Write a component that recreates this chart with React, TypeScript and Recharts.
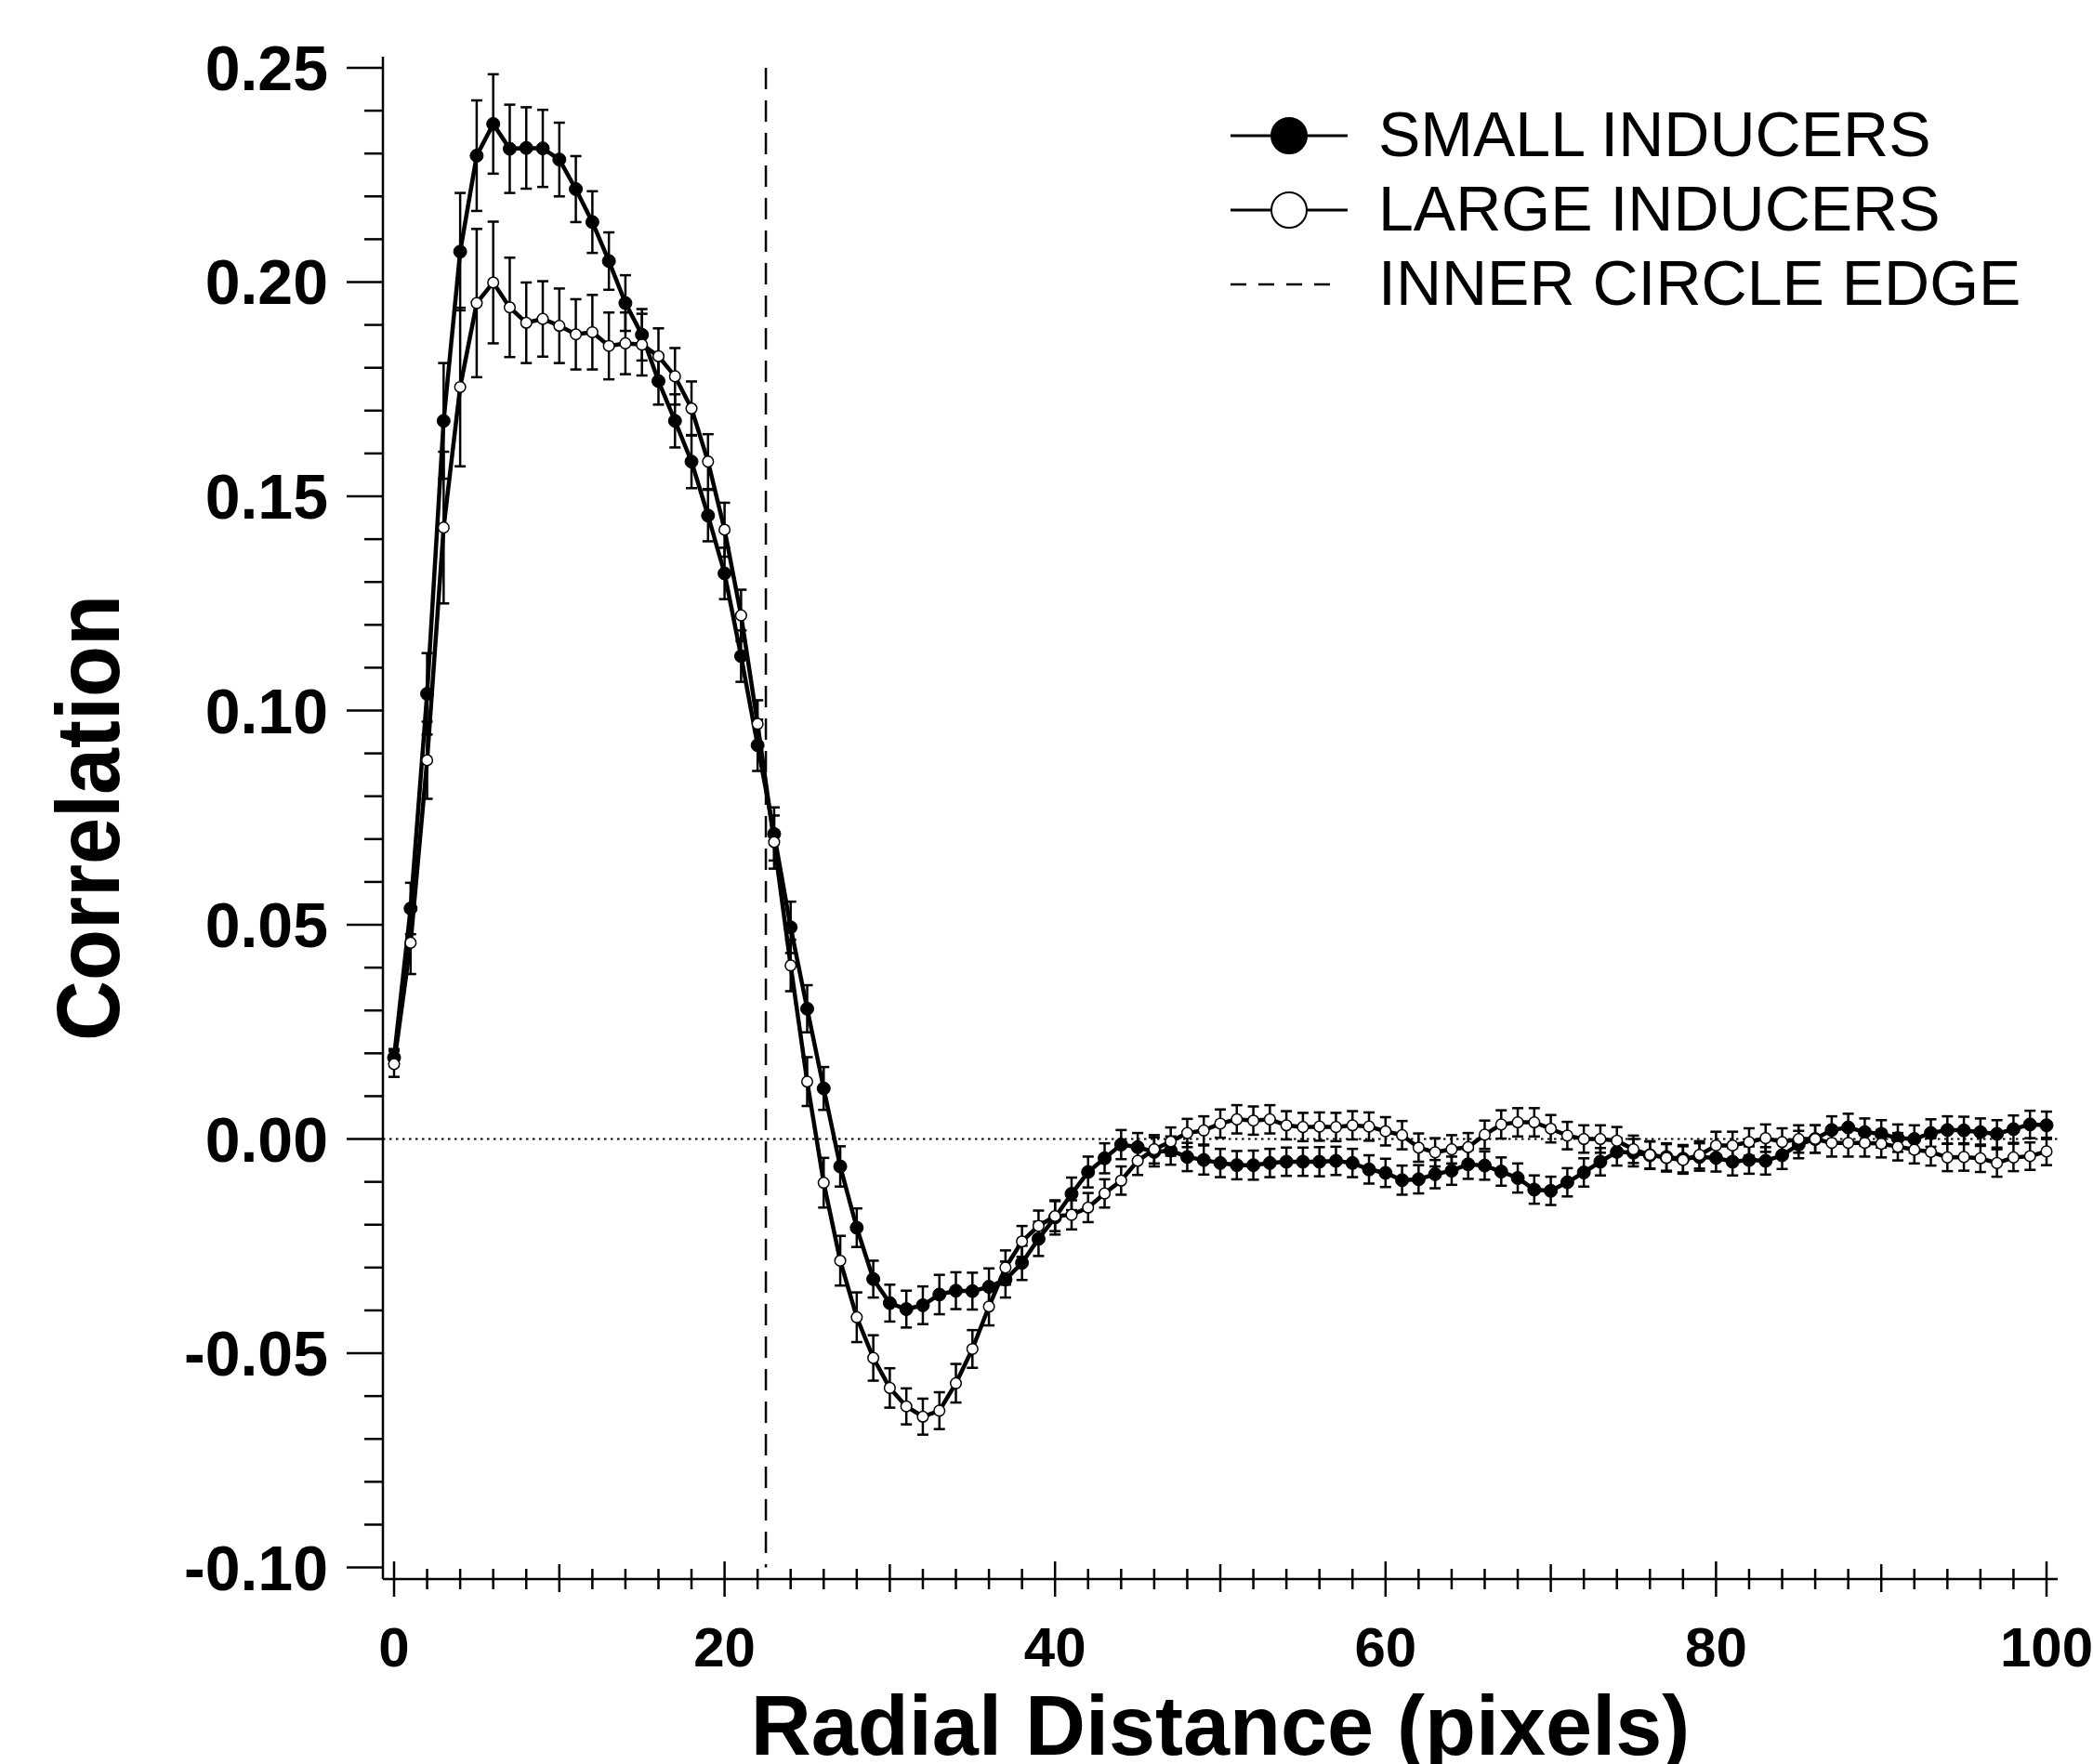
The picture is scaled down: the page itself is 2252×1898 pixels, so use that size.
import { ComposedChart, Line, XAxis, YAxis, ErrorBar, ReferenceLine, Legend } from "recharts";

const FONT = '"Liberation Sans", Arial, Helvetica, sans-serif';

// radial distance in pixels
const distance = [
  0, 1, 2, 3, 4, 5, 6, 7, 8, 9, 10, 11, 12, 13, 14, 15, 16, 17, 18, 19, 20,
  21, 22, 23, 24, 25, 26, 27, 28, 29, 30, 31, 32, 33, 34, 35, 36, 37, 38, 39, 40,
  41, 42, 43, 44, 45, 46, 47, 48, 49, 50, 51, 52, 53, 54, 55, 56, 57, 58, 59, 60,
  61, 62, 63, 64, 65, 66, 67, 68, 69, 70, 71, 72, 73, 74, 75, 76, 77, 78, 79, 80,
  81, 82, 83, 84, 85, 86, 87, 88, 89, 90, 91, 92, 93, 94, 95, 96, 97, 98, 99, 100,
];

const smallInducers = [
  0.019, 0.0538, 0.1039, 0.1676, 0.2071, 0.2295, 0.2369, 0.2311, 0.2313, 0.2312,
  0.2286, 0.2217, 0.214, 0.2049, 0.1951, 0.1877, 0.1769, 0.1676, 0.1581, 0.1455,
  0.132, 0.1127, 0.0919, 0.0712, 0.0494, 0.0304, 0.0118, -0.0064, -0.0207, -0.0327,
  -0.0383, -0.0397, -0.0388, -0.0363, -0.0354, -0.0355, -0.0345, -0.0328, -0.0289, -0.0233,
  -0.0183, -0.0128, -0.0077, -0.0045, -0.0013, -0.0019, -0.003, -0.0027, -0.0042, -0.0049,
  -0.0056, -0.0061, -0.0061, -0.0056, -0.0053, -0.0053, -0.0053, -0.0051, -0.0056, -0.0071,
  -0.0079, -0.0096, -0.0094, -0.0082, -0.0074, -0.0059, -0.0062, -0.0076, -0.0091, -0.0118,
  -0.0121, -0.0101, -0.0078, -0.0053, -0.003, -0.0032, -0.0038, -0.0042, -0.0046, -0.0042,
  -0.0044, -0.0053, -0.0049, -0.0051, -0.0038, -0.0013, 0.0, 0.0021, 0.0027, 0.0016,
  0.0012, 0.0002, 0.0, 0.0014, 0.0021, 0.002, 0.0016, 0.0012, 0.0023, 0.0034,
  0.0032,
];

const smallErr = [
  0.002, 0.006, 0.0095, 0.0135, 0.0137, 0.0129, 0.0116, 0.0103, 0.0095, 0.009,
  0.0086, 0.0077, 0.0072, 0.0067, 0.0065, 0.006, 0.0055, 0.0062, 0.0062, 0.006,
  0.006, 0.006, 0.006, 0.0062, 0.006, 0.0055, 0.005, 0.0047, 0.0045, 0.0043,
  0.0043, 0.0043, 0.0044, 0.0046, 0.0043, 0.0043, 0.0043, 0.0042, 0.004, 0.004,
  0.004, 0.0038, 0.0036, 0.0035, 0.0034, 0.0033, 0.0034, 0.0033, 0.0033, 0.0034,
  0.0033, 0.0033, 0.0034, 0.0033, 0.0033, 0.0033, 0.0034, 0.0033, 0.0033, 0.0033,
  0.0033, 0.0034, 0.0033, 0.0033, 0.0033, 0.0034, 0.0033, 0.0033, 0.0034, 0.0033,
  0.0033, 0.0033, 0.0033, 0.0032, 0.0032, 0.0032, 0.0032, 0.0032, 0.0032, 0.0032,
  0.0032, 0.0032, 0.0032, 0.0032, 0.0032, 0.0032, 0.0032, 0.0032, 0.0032, 0.0032,
  0.0032, 0.0032, 0.0032, 0.0032, 0.0032, 0.0032, 0.0032, 0.0032, 0.0032, 0.0032,
  0.0032,
];

const largeInducers = [
  0.0175, 0.0458, 0.0884, 0.1427, 0.1755, 0.1951, 0.1999, 0.1941, 0.1905, 0.1914,
  0.1898, 0.1878, 0.1883, 0.1851, 0.1857, 0.1854, 0.1827, 0.178, 0.1705, 0.1581,
  0.1422, 0.1222, 0.0969, 0.0693, 0.0405, 0.0134, -0.0102, -0.0284, -0.0416, -0.0511,
  -0.0581, -0.0624, -0.0648, -0.0634, -0.057, -0.049, -0.0391, -0.03, -0.0239, -0.0203,
  -0.018, -0.0177, -0.016, -0.0127, -0.0097, -0.0051, -0.0024, -0.0006, 0.0014, 0.002,
  0.0036, 0.0046, 0.0043, 0.0046, 0.0032, 0.0028, 0.0029, 0.0028, 0.0032, 0.0029,
  0.0018, 0.0009, -0.002, -0.0031, -0.0024, -0.0019, 0.001, 0.0034, 0.0039, 0.0039,
  0.0024, 0.0008, 0.0, 0.0, -0.0004, -0.0024, -0.0037, -0.0044, -0.0049, -0.0037,
  -0.0015, -0.0015, -0.0007, 0.0002, -0.0007, 0.0, 0.0, -0.0009, -0.0009, -0.0009,
  -0.0011, -0.0018, -0.0025, -0.003, -0.0043, -0.0042, -0.0045, -0.0056, -0.0043, -0.004,
  -0.0029,
];

const largeErr = [
  0.003, 0.0073, 0.009, 0.0177, 0.0185, 0.0173, 0.0142, 0.0116, 0.0094, 0.0088,
  0.0087, 0.0082, 0.0087, 0.0078, 0.0072, 0.0072, 0.0065, 0.0066, 0.0063, 0.0064,
  0.0063, 0.006, 0.0055, 0.0062, 0.006, 0.0057, 0.0058, 0.0058, 0.0058, 0.0053,
  0.0046, 0.0042, 0.0042, 0.0043, 0.0045, 0.0044, 0.0044, 0.004, 0.0036, 0.0036,
  0.0035, 0.0034, 0.0034, 0.0033, 0.0033, 0.0033, 0.0033, 0.0033, 0.0033, 0.0033,
  0.0033, 0.0033, 0.0033, 0.0033, 0.0033, 0.0033, 0.0033, 0.0033, 0.0033, 0.0033,
  0.0033, 0.0033, 0.0033, 0.0033, 0.0033, 0.0033, 0.0033, 0.0033, 0.0033, 0.0033,
  0.0032, 0.0032, 0.0032, 0.0032, 0.0032, 0.0032, 0.0032, 0.0032, 0.0032, 0.0032,
  0.0032, 0.0032, 0.0032, 0.0032, 0.0032, 0.0032, 0.0032, 0.0032, 0.0032, 0.0032,
  0.0032, 0.0032, 0.0032, 0.0032, 0.0032, 0.0032, 0.0032, 0.0032, 0.0032, 0.0032,
  0.0032,
];

const innerCircleEdge = 22.5;

const xTicks = [
  0, 2, 4, 6, 8, 10, 12, 14, 16, 18, 20, 22, 24, 26, 28, 30, 32, 34, 36, 38, 40,
  42, 44, 46, 48, 50, 52, 54, 56, 58, 60, 62, 64, 66, 68, 70, 72, 74, 76, 78, 80,
  82, 84, 86, 88, 90, 92, 94, 96, 98, 100,
];
const xLabelled = [0, 20, 40, 60, 80, 100];
const xDecades = [10, 30, 50, 70, 90];

const yTicks = [
  -0.1, -0.09, -0.08, -0.07, -0.06, -0.05, -0.04, -0.03, -0.02, -0.01, 0,
  0.01, 0.02, 0.03, 0.04, 0.05, 0.06, 0.07, 0.08, 0.09, 0.1, 0.11, 0.12,
  0.13, 0.14, 0.15, 0.16, 0.17, 0.18, 0.19, 0.2, 0.21, 0.22, 0.23, 0.24, 0.25,
];
const yMajor = [-0.1, -0.05, 0, 0.05, 0.1, 0.15, 0.2, 0.25];
const yMajorLabels = ["-0.10", "-0.05", "0.00", "0.05", "0.10", "0.15", "0.20", "0.25"];

const legendItems = [
  { label: "SMALL INDUCERS", kind: "filled" },
  { label: "LARGE INDUCERS", kind: "open" },
  { label: "INNER CIRCLE EDGE", kind: "dashed" },
];

const rows = distance.map((d, i) => ({
  d,
  small: smallInducers[i],
  smallErr: smallErr[i],
  large: largeInducers[i],
  largeErr: largeErr[i],
}));

function XTick(props: any) {
  const { x, y, payload } = props;
  const v = payload.value;
  const labelled = xLabelled.includes(v);
  const decade = xDecades.includes(v);
  const up = labelled ? 19 : decade ? 16 : 11;
  const down = labelled ? 19 : decade ? 14 : 11;
  return (
    <g>
      <line x1={x} x2={x} y1={y - up} y2={y + down} stroke="#000" strokeWidth={2.5} />
      {labelled && (
        <text x={x} y={y + 94} textAnchor="middle" fontSize={60} fontWeight={700} fontFamily={FONT} fill="#000">
          {v}
        </text>
      )}
    </g>
  );
}

function YTick(props: any) {
  const { x, y, payload } = props;
  const idx = yMajor.findIndex((m) => Math.abs(m - payload.value) < 1e-6);
  const major = idx >= 0;
  return (
    <g>
      <line x1={x - (major ? 39 : 20)} x2={x} y1={y} y2={y} stroke="#000" strokeWidth={2.5} />
      {major && (
        <text x={x - 59} y={y + 24} textAnchor="end" fontSize={68} fontWeight={700} fontFamily={FONT} fill="#000">
          {yMajorLabels[idx]}
        </text>
      )}
    </g>
  );
}

function XTitle(props: any) {
  const vb = props.viewBox ?? { x: 412, y: 1699, width: 1802, height: 199 };
  return (
    <text x={vb.x + vb.width / 2} y={vb.y + 189} textAnchor="middle" fontSize={90} fontWeight={700} fontFamily={FONT} fill="#000">
      Radial Distance (pixels)
    </text>
  );
}

function YTitle(props: any) {
  const vb = props.viewBox ?? { x: 0, y: 61, width: 412, height: 1638 };
  const cx = 128;
  const cy = vb.y + vb.height / 2;
  return (
    <text
      x={cx}
      y={cy}
      transform={`rotate(-90 ${cx} ${cy})`}
      textAnchor="middle"
      fontSize={96}
      fontWeight={700}
      fontFamily={FONT}
      fill="#000"
      textLength={480}
      lengthAdjust="spacingAndGlyphs"
    >
      Correlation
    </text>
  );
}

function LegendBox() {
  return (
    <svg width={940} height={260}>
      {legendItems.map((item, i) => {
        const cy = 51 + i * 80;
        return (
          <g key={item.label}>
            {item.kind === "dashed" ? (
              <line x1={24} x2={135} y1={cy} y2={cy} stroke="#000" strokeWidth={2.5} strokeDasharray="17 13" />
            ) : (
              <>
                <line x1={24} x2={150} y1={cy} y2={cy} stroke="#000" strokeWidth={3} />
                <circle cx={87} cy={cy} r={19} fill={item.kind === "filled" ? "#000" : "#fff"} stroke="#000" strokeWidth={2} />
              </>
            )}
            <text x={183} y={cy + 22} fontSize={68} fontFamily={FONT} fill="#000">
              {item.label}
            </text>
          </g>
        );
      })}
    </svg>
  );
}

export default function App() {
  const xDomain: [number, number] = [-0.675, 100.675];
  const yDomain: [number, number] = [-0.1027, 0.2526];
  return (
    <div style={{ position: "absolute", left: 0, top: 0, width: 2252, height: 1898, background: "#fff" }}>
      <ComposedChart width={2252} height={1898} data={rows} margin={{ top: 61, right: 38, bottom: 0, left: 0 }}>
        <XAxis
          dataKey="d"
          type="number"
          domain={xDomain}
          allowDataOverflow
          ticks={xTicks}
          interval={0}
          tickSize={0}
          tickMargin={0}
          tickLine={false}
          tick={(p: any) => <XTick {...p} />}
          axisLine={{ stroke: "#000", strokeWidth: 2.5 }}
          height={199}
          label={XTitle}
        />
        <XAxis
          xAxisId="top"
          orientation="top"
          dataKey="d"
          type="number"
          domain={xDomain}
          allowDataOverflow
          height={0}
          tick={false}
          tickLine={false}
          axisLine={{ stroke: "#000", strokeWidth: 2 }}
        />
        <YAxis
          type="number"
          domain={yDomain}
          allowDataOverflow
          ticks={yTicks}
          interval={0}
          tickSize={0}
          tickMargin={0}
          tickLine={false}
          tick={(p: any) => <YTick {...p} />}
          axisLine={{ stroke: "#000", strokeWidth: 2.5 }}
          width={412}
          label={YTitle}
        />
        <YAxis
          yAxisId="right"
          orientation="right"
          type="number"
          domain={yDomain}
          allowDataOverflow
          width={0}
          tick={false}
          tickLine={false}
          axisLine={{ stroke: "#000", strokeWidth: 2.5 }}
        />
        <ReferenceLine y={0} stroke="#000" strokeWidth={2} strokeDasharray="2.5 4.5" />
        <ReferenceLine
          segment={[
            { x: innerCircleEdge, y: 0.25 },
            { x: innerCircleEdge, y: -0.1 },
          ]}
          stroke="#000"
          strokeWidth={2.5}
          strokeDasharray="23 12"
        />
        <Line
          dataKey="small"
          type="linear"
          stroke="#000"
          strokeWidth={4.5}
          dot={{ r: 7, fill: "#000", stroke: "#000", strokeWidth: 1 }}
          activeDot={false}
          isAnimationActive={false}
        >
          <ErrorBar dataKey="smallErr" direction="y" width={6} stroke="#000" strokeWidth={2.5} />
        </Line>
        <Line
          dataKey="large"
          type="linear"
          stroke="#000"
          strokeWidth={4.5}
          dot={{ r: 5.8, fill: "#fff", stroke: "#000", strokeWidth: 1.5 }}
          activeDot={false}
          isAnimationActive={false}
        >
          <ErrorBar dataKey="largeErr" direction="y" width={6} stroke="#000" strokeWidth={2.5} />
        </Line>
        <Legend
          content={() => <LegendBox />}
          layout="vertical"
          align="center"
          verticalAlign="middle"
          wrapperStyle={{ left: 1300, top: 95, width: 940, height: 260 }}
        />
      </ComposedChart>
    </div>
  );
}
